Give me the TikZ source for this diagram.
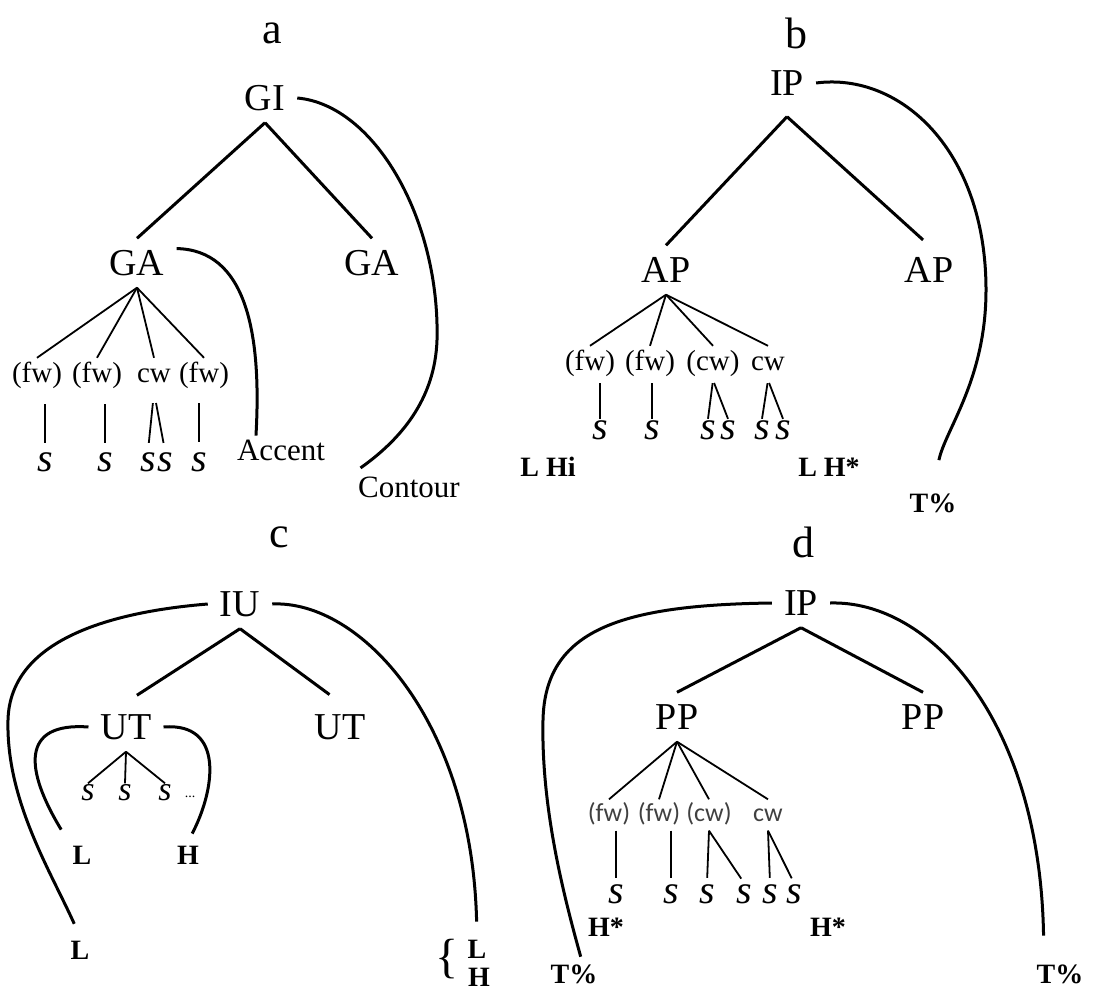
\documentclass[tikz,border=0pt]{standalone}
\usepackage{fontspec}
\setmainfont{Liberation Serif}
\newfontfamily\calibri{Carlito}
\usepackage{tikz}

\begin{document}
\begin{tikzpicture}[x=1pt,y=-1pt,
    ttl/.style={font=\fontsize{44}{46}\selectfont, inner sep=0pt},
    cat/.style={font=\fontsize{38}{40}\selectfont, inner sep=12pt, text height=25pt, text depth=0pt},
    wrd/.style={font=\fontsize{29}{30}\selectfont, inner sep=4pt, text height=20pt, text depth=6pt},
    wrdsans/.style={font=\calibri\fontsize{26}{28}\selectfont, text=black!75, inner sep=4pt, text height=18pt, text depth=5pt},
    syl/.style={font=\fontsize{40}{42}\selectfont\itshape, inner sep=2pt, text height=18pt, text depth=0pt},
    sylsm/.style={font=\fontsize{34}{36}\selectfont\itshape, inner sep=2pt, text height=15pt, text depth=0pt},
    lab/.style={font=\fontsize{31}{32}\selectfont, inner sep=4pt, text height=20.5pt, text depth=0pt},
    tone/.style={font=\bfseries\fontsize{28}{30}\selectfont, inner sep=4pt, text height=18.5pt, text depth=0pt},
    trunk/.style={line width=3pt},
    twig/.style={line width=1.8pt}]
    \useasboundingbox (0,0) rectangle (1094,992);

    \node[ttl] (ta) at (272,33) {a};
    \node[cat] (gi) at (265,98) {GI};
    \node[cat] (gaA) at (137,263) {GA};
    \node[cat] (gaB) at (372,263) {GA};
    \node[wrd] (wa1) at (37,375) {(fw)};
    \node[wrd] (wa2) at (97,375) {(fw)};
    \node[wrd] (wa3) at (154,375) {cw};
    \node[wrd] (wa4) at (204,375) {(fw)};
    \node[syl] (sa1) at (45,462) {s};
    \node[syl] (sa2) at (105,462) {s};
    \node[syl] (sa3) at (148,462) {s};
    \node[syl] (sa4) at (165,462) {s};
    \node[syl] (sa5) at (199,462) {s};
    \node[lab] (acc) at (281,450) {Accent};
    \node[lab] (cont) at (409,487) {Contour};
    \draw[trunk] (gi.south) -- (gaA.north);
    \draw[trunk] (gi.south) -- (gaB.north);
    \draw[twig] (gaA.south) -- (wa1.north);
    \draw[twig] (gaA.south) -- (wa2.north);
    \draw[twig] (gaA.south) -- (wa3.north);
    \draw[twig] (gaA.south) -- (wa4.north);
    \draw[twig, shorten <=12pt, shorten >=8pt] (wa1.south -| sa1.north) -- (sa1.north);
    \draw[twig, shorten <=12pt, shorten >=8pt] (wa2.south -| sa2.north) -- (sa2.north);
    \draw[twig, shorten <=11pt, shorten >=8pt] (wa3.south) -- (sa3.north);
    \draw[twig, shorten <=11pt, shorten >=8pt] (wa3.south) -- (sa4.north);
    \draw[twig, shorten <=11pt, shorten >=9pt] (wa4.south -| sa5.north) -- (sa5.north);
    \draw[trunk] (gaA.20) .. controls (245,250) and (262,330) .. (acc.150);
    \draw[trunk, shorten >=8pt] (gi.east) .. controls (375,105) and (440,220) .. (437,340) .. controls (435,400) and (400,440) .. (cont.north west);

    \node[ttl] (tb) at (796,33) {b};
    \node[cat] (ipb) at (787,83) {IP};
    \node[cat] (apA) at (666,270) {AP};
    \node[cat] (apB) at (929,270) {AP};
    \node[wrd] (wb1) at (590,363) {(fw)};
    \node[wrd] (wb2) at (650,363) {(fw)};
    \node[wrd] (wb3) at (713,363) {(cw)};
    \node[wrd] (wb4) at (768,363) {cw};
    \node[syl] (sb1) at (600,430) {s};
    \node[syl] (sb2) at (652,430) {s};
    \node[syl] (sb3) at (708,430) {s};
    \node[syl] (sb4) at (728,430) {s};
    \node[syl] (sb5) at (762,430) {s};
    \node[syl] (sb6) at (783,430) {s};
    \node[tone] (lhi) at (548,467) {L Hi};
    \node[tone] (lhs) at (829,467) {L H*};
    \node[tone] (tpb) at (933,503) {T\%};
    \draw[trunk] ([yshift=-9pt]ipb.south) -- (apA.north);
    \draw[trunk, shorten >=8pt] ([yshift=-9pt]ipb.south) -- (apB.north);
    \draw[twig] (apA.south) -- (wb1.north);
    \draw[twig] (apA.south) -- (wb2.north);
    \draw[twig] (apA.south) -- (wb3.north);
    \draw[twig] (apA.south) -- (wb4.north);
    \draw[twig, shorten <=3pt] (wb1.south -| sb1.north) -- (sb1.north);
    \draw[twig, shorten <=3pt] (wb2.south -| sb2.north) -- (sb2.north);
    \draw[twig, shorten <=3pt] (wb3.south) -- (sb3.north);
    \draw[twig, shorten <=3pt] (wb3.south) -- (sb4.north);
    \draw[twig, shorten <=3pt] (wb4.south) -- (sb5.north);
    \draw[twig, shorten <=3pt] (wb4.south) -- (sb6.north);
    \draw[trunk, shorten >=30pt] (ipb.east) .. controls (900,72) and (986,150) .. (986,290) .. controls (986,380) and (945,430) .. (tpb.north);

    \node[ttl] (tc) at (279,537) {c};
    \node[cat] (iu) at (240,604) {IU};
    \node[cat] (utA) at (126,727) {UT};
    \node[cat] (utB) at (340,727) {UT};
    \node[sylsm] (sc1) at (88,793) {s};
    \node[sylsm] (sc2) at (125,793) {s};
    \node[sylsm] (sc3) at (165,793) {s};
    \node[font=\fontsize{14}{15}\selectfont, inner sep=0pt] (dt) at (190,797) {...};
    \node[tone] (lA) at (82,855) {L};
    \node[tone] (hA) at (188,855) {H};
    \node[tone] (lB) at (80,950) {L};
    \node[font=\fontsize{48}{50}\selectfont, inner sep=0pt] (brc) at (447,959) {\{};
    \node[tone, inner sep=1pt] (lC) at (477,949) {L};
    \node[tone, inner sep=1pt] (hC) at (479,977) {H};
    \draw[trunk, shorten >=13pt] (iu.south) -- (utA.north);
    \draw[trunk, shorten >=13pt] (iu.south) -- (utB.north);
    \draw[twig] (utA.south) -- (sc1.north);
    \draw[twig] (utA.south) -- (sc2.north);
    \draw[twig] (utA.south) -- (sc3.north);
    \draw[trunk, shorten >=14pt] (iu.west) .. controls (110,612) and (10,640) .. (8,720) .. controls (6,800) and (50,870) .. (lB.north);
    \draw[trunk, shorten >=17pt] (iu.east) .. controls (360,600) and (472,720) .. (lC.north);
    \draw[trunk, shorten >=14pt] (utA.west) .. controls (20,722) and (25,770) .. (lA.north west);
    \draw[trunk, shorten >=9pt] (utA.east) .. controls (225,722) and (215,790) .. (hA.north);

    \node[ttl] (td) at (803,542) {d};
    \node[cat] (ipd) at (801,603) {IP};
    \node[cat] (ppA) at (677,717) {PP};
    \node[cat] (ppB) at (923,717) {PP};
    \node[wrdsans] (wd1) at (609,815) {(fw)};
    \node[wrdsans] (wd2) at (659,815) {(fw)};
    \node[wrdsans] (wd3) at (709,815) {(cw)};
    \node[wrdsans] (wd4) at (768,815) {cw};
    \node[syl] (sd1) at (616,894) {s};
    \node[syl] (sd2) at (671,894) {s};
    \node[syl] (sd3) at (707,894) {s};
    \node[syl] (sd4) at (744,894) {s};
    \node[syl] (sd5) at (770,894) {s};
    \node[syl] (sd6) at (794,894) {s};
    \node[tone] (hsA) at (606,927) {H*};
    \node[tone] (hsB) at (828,927) {H*};
    \node[tone] (tpA) at (574,974) {T\%};
    \node[tone] (tpB) at (1060,974) {T\%};
    \draw[trunk] (ipd.south) -- (ppA.north);
    \draw[trunk] (ipd.south) -- (ppB.north);
    \draw[twig] (ppA.south) -- (wd1.north);
    \draw[twig] (ppA.south) -- (wd2.north);
    \draw[twig] (ppA.south) -- (wd3.north);
    \draw[twig] (ppA.south) -- (wd4.north);
    \draw[twig, shorten >=5pt] (wd1.south -| sd1.north) -- (sd1.north);
    \draw[twig, shorten >=5pt] (wd2.south -| sd2.north) -- (sd2.north);
    \draw[twig, shorten >=5pt] (wd3.south) -- (sd3.north);
    \draw[twig, shorten >=5pt] (wd3.south) -- (sd4.north);
    \draw[twig, shorten >=5pt] (wd4.south) -- (sd5.north);
    \draw[twig, shorten >=5pt] (wd4.south) -- (sd6.north);
    \draw[trunk, shorten >=4pt] (ipd.west) .. controls (620,605) and (545,630) .. (543,720) .. controls (541,810) and (565,900) .. (tpA.60);
    \draw[trunk, shorten >=25pt] (ipd.east) .. controls (930,600) and (1040,720) .. (tpB.140);
\end{tikzpicture}
\end{document}
